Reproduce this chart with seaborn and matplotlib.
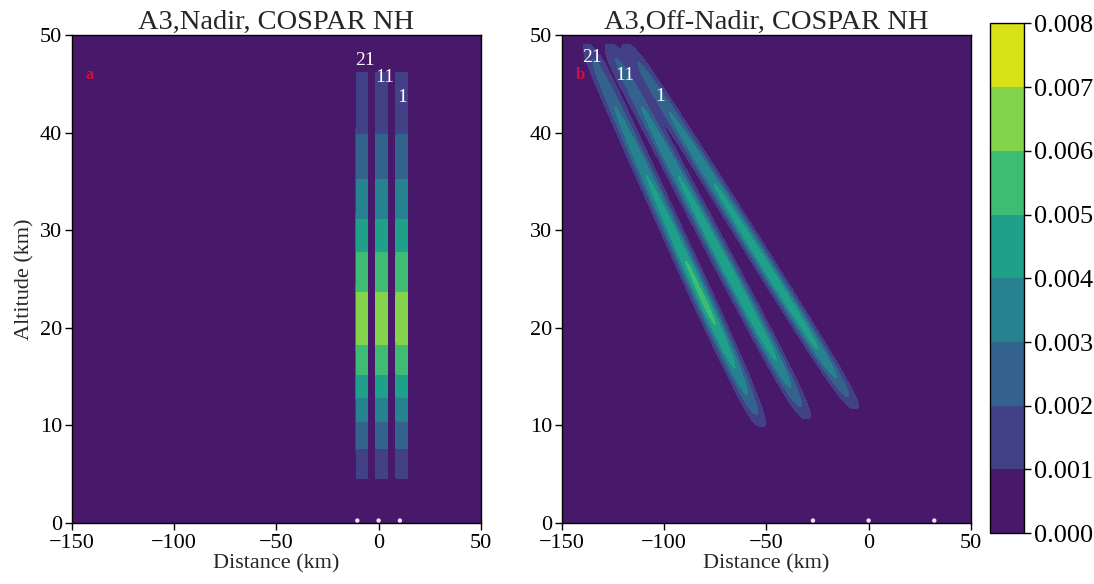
import numpy as np
import matplotlib
matplotlib.use("Agg")
import matplotlib.pyplot as plt
import seaborn as sns

# ---------------- data ----------------
levels = [0.000, 0.001, 0.002, 0.003, 0.004, 0.005, 0.006, 0.007, 0.008]
x_ticks = [-150, -100, -50, 0, 50]
y_ticks = [0, 10, 20, 30, 40, 50]
titles = ["A3,Nadir, COSPAR NH", "A3,Off-Nadir, COSPAR NH"]
panel_letters = ["a", "b"]

# panel a (nadir): three vertical weighting-function columns
nadir_centers = [-8.3, 1.4, 11.3]
nadir_half_width = [2.77, 2.83, 2.83]
nadir_alt = [4.6, 7.7, 10.5, 12.9, 15.3, 18.4, 21.0, 23.5, 27.6, 31.0, 35.1, 39.6, 46.2]
nadir_val = [0.00115, 0.00203, 0.00303, 0.00403, 0.00503, 0.00603, 0.0066, 0.00603,
             0.00503, 0.00403, 0.00303, 0.00203, 0.00115]
nadir_labels = ["21", "11", "1"]
nadir_label_x = [-6.5, 3.0, 11.5]
nadir_label_alt = [47.4, 45.6, 43.6]
nadir_ground_x = [-10.4, 0.0, 10.4]

# panel b (off-nadir): three slanted columns
off_top_x = [-137.8, -126.9, -117.9]
off_top_alt = [49.0, 49.0, 49.0]
off_bottom_x = [-52.3, -30.3, -6.7]
off_bottom_alt = [9.9, 10.7, 11.75]
off_sigma = 3.3
band21_alt = [9.9, 10.6, 12.0, 14.5, 18.0, 22.0, 26.0, 30.0, 34.0, 38.0, 42.0, 45.0, 47.5, 49.0]
band21_val = [0.0011, 0.0017, 0.0025, 0.0036, 0.0046, 0.0053, 0.0051, 0.0046, 0.0042,
              0.0037, 0.0031, 0.0026, 0.0020, 0.0011]
band11_alt = [10.7, 11.4, 12.8, 15.0, 18.0, 22.0, 26.0, 30.0, 34.0, 38.0, 42.0, 45.0, 47.5, 49.0]
band11_val = [0.0011, 0.0017, 0.0025, 0.0035, 0.0044, 0.0049, 0.0050, 0.0046, 0.0042,
              0.0037, 0.0031, 0.0026, 0.0020, 0.0011]
band1_alt = [11.75, 12.4, 13.8, 16.0, 19.0, 22.0, 26.0, 30.0, 34.0, 38.0, 42.0, 45.0, 47.5, 49.0]
band1_val = [0.0011, 0.0017, 0.0025, 0.0035, 0.0043, 0.0046, 0.0048, 0.0045, 0.0041,
             0.0036, 0.0030, 0.0025, 0.0019, 0.0011]
off_labels = ["21", "11", "1"]
off_label_x = [-135.0, -119.3, -102.0]
off_label_alt = [47.7, 45.8, 43.7]
off_ground_x = [-27.2, 0.0, 32.1]

# ---------------- fields ----------------
xg = np.linspace(-150, 50, 2001)
zg = np.linspace(0, 50, 1001)
X, Z = np.meshgrid(xg, zg)

field_a = np.zeros_like(X)
prof_a = np.interp(zg, nadir_alt, nadir_val, left=0.0, right=0.0)
for c, hw in zip(nadir_centers, nadir_half_width):
    field_a += np.where(np.abs(X - c) <= hw, prof_a[:, None], 0.0)

field_b = np.zeros_like(X)
for i, (ba, bv) in enumerate([(band21_alt, band21_val),
                              (band11_alt, band11_val),
                              (band1_alt, band1_val)]):
    prof = np.interp(zg, ba, bv, left=0.0, right=0.0)
    xc = np.interp(zg, [off_bottom_alt[i], off_top_alt[i]],
                   [off_bottom_x[i], off_top_x[i]])
    field_b += prof[:, None] * np.exp(-0.5 * ((X - xc[:, None]) / off_sigma) ** 2)

# ---------------- drawing ----------------
sns.set_theme(style="ticks")
plt.rcParams['font.family'] = ['Liberation Serif', 'DejaVu Serif']
plt.rcParams['axes.unicode_minus'] = True
cmap = sns.color_palette("viridis", as_cmap=True)

fig = plt.figure(figsize=(10.94, 5.84), dpi=100)
ax_a = fig.add_axes([0.0655, 0.1045, 0.3741, 0.8356])
ax_b = fig.add_axes([0.5134, 0.1045, 0.3741, 0.8356])
cax = fig.add_axes([0.905, 0.087, 0.031, 0.873])

tick_fs = 16
for ax, fld, title, letter in [(ax_a, field_a, titles[0], panel_letters[0]),
                               (ax_b, field_b, titles[1], panel_letters[1])]:
    cs = ax.contourf(xg, zg, fld, levels=levels, cmap=cmap)
    ax.set_xlim(-150, 50)
    ax.set_ylim(0, 50)
    ax.set_xticks(x_ticks)
    ax.set_yticks(y_ticks)
    ax.set_title(title, fontsize=20.5, pad=4)
    ax.set_xlabel("Distance (km)", fontsize=tick_fs, labelpad=1)
    ax.tick_params(labelsize=tick_fs, length=5, width=1, pad=2, colors='black')
    ax.tick_params(axis='x', pad=3)
    for s in ax.spines.values():
        s.set_color('black')
        s.set_linewidth(1.0)
    ax.text(-141, 45.9, letter, color='#d0103c', fontsize=12, fontweight='bold',
            ha='center', va='center')

ax_a.set_ylabel("Altitude (km)", fontsize=tick_fs, labelpad=4)

for lab, lx, la in zip(nadir_labels, nadir_label_x, nadir_label_alt):
    ax_a.text(lx, la, lab, color='white', fontsize=14, ha='center', va='center')
for lab, lx, la in zip(off_labels, off_label_x, off_label_alt):
    ax_b.text(lx, la, lab, color='white', fontsize=14, ha='center', va='center')

ax_a.scatter(nadir_ground_x, [0.25] * 3, s=10, color='#f4e0f4', edgecolors='none', zorder=5)
ax_b.scatter(off_ground_x, [0.25] * 3, s=10, color='#f4e0f4', edgecolors='none', zorder=5)

cb = fig.colorbar(cs, cax=cax, ticks=levels, format='%.3f')
cb.ax.tick_params(labelsize=19, length=5, width=1, pad=2, colors='black')
cb.outline.set_edgecolor('black')
cb.outline.set_linewidth(1.0)

fig.savefig("out.png", dpi=100)
